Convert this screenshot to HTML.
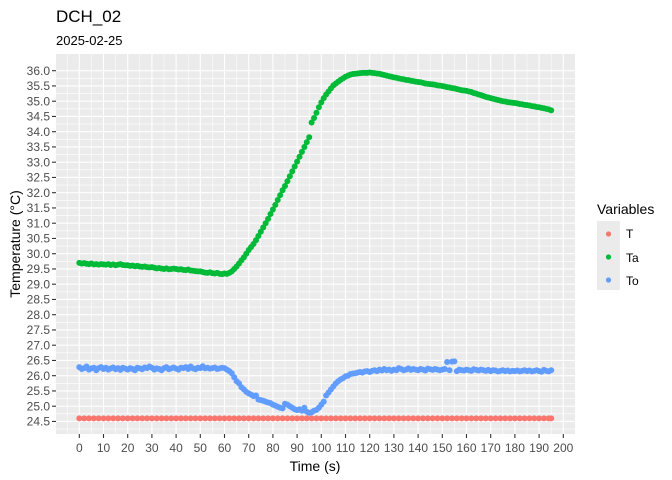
<!DOCTYPE html>
<html><head><meta charset="utf-8"><style>
body{margin:0;background:#fff;}
svg{display:block;font-family:"Liberation Sans",Arial,sans-serif;}
</style></head><body>
<svg id="chart" width="672" height="480">
<text x="56" y="22" font-size="17" fill="#000">DCH_02</text>
<text x="56" y="45" font-size="13" fill="#000">2025-02-25</text>
<rect x="56" y="54" width="519" height="380" fill="#ebebeb"/>
<g id="grid"></g><g id="axes"></g><g id="marks"></g>
<text x="315" y="471" font-size="14" text-anchor="middle" fill="#000">Time (s)</text>
<text transform="translate(20,244) rotate(-90)" font-size="14" text-anchor="middle" fill="#000">Temperature (°C)</text>
<g>
<text x="597" y="214" font-size="14" fill="#000">Variables</text>
<rect x="597" y="221" width="23" height="69" fill="#ebebeb"/>
<circle cx="608.5" cy="234" r="2.6" fill="#F8766D"/>
<circle cx="608.5" cy="257" r="2.6" fill="#00BA38"/>
<circle cx="608.5" cy="280" r="2.6" fill="#619CFF"/>
<text x="626" y="238" font-size="12" fill="#000">T</text>
<text x="626" y="262" font-size="12" fill="#000">Ta</text>
<text x="626" y="285" font-size="12" fill="#000">To</text>
</g>
</svg>
<script>
const time = [0,1,2,3,4,5,6,7,8,9,10,11,12,13,14,15,16,17,18,19,20,21,22,23,24,25,26,27,28,29,30,31,32,33,34,35,36,37,38,39,40,41,42,43,44,45,46,47,48,49,50,51,52,53,54,55,56,57,58,59,60,61,62,63,64,65,66,67,68,69,70,71,72,73,74,75,76,77,78,79,80,81,82,83,84,85,86,87,88,89,90,91,92,93,94,95,96,97,98,99,100,101,102,103,104,105,106,107,108,109,110,111,112,113,114,115,116,117,118,119,120,121,122,123,124,125,126,127,128,129,130,131,132,133,134,135,136,137,138,139,140,141,142,143,144,145,146,147,148,149,150,151,152,153,154,155,156,157,158,159,160,161,162,163,164,165,166,167,168,169,170,171,172,173,174,175,176,177,178,179,180,181,182,183,184,185,186,187,188,189,190,191,192,193,194,195];
const taValues = [29.70,29.68,29.69,29.67,29.66,29.68,29.65,29.66,29.64,29.66,
29.65,29.64,29.66,29.63,29.65,29.62,29.64,29.66,29.63,29.62,
29.62,29.60,29.61,29.59,29.60,29.58,29.57,29.58,29.56,29.55,
29.56,29.54,29.52,29.53,29.51,29.50,29.52,29.49,29.50,29.51,
29.50,29.48,29.49,29.47,29.46,29.48,29.45,29.44,29.43,29.42,
29.42,29.40,29.38,29.37,29.39,29.36,29.35,29.37,29.34,29.33,
29.35,29.34,29.37,29.42,29.50,29.58,29.68,29.78,29.88,30.00,
30.12,30.22,30.32,30.44,30.58,30.72,30.86,31.00,31.14,31.30,
31.45,31.60,31.76,31.92,32.08,32.22,32.38,32.54,32.70,32.86,
33.02,33.18,33.34,33.50,33.66,33.82,34.30,34.45,34.62,34.80,
34.96,35.10,35.22,35.32,35.42,35.52,35.58,35.64,35.70,35.75,
35.80,35.84,35.87,35.89,35.90,35.91,35.92,35.93,35.93,35.93,
35.94,35.93,35.92,35.91,35.90,35.88,35.86,35.84,35.82,35.80,
35.78,35.77,35.75,35.73,35.72,35.70,35.69,35.67,35.66,35.64,
35.63,35.62,35.60,35.58,35.57,35.56,35.55,35.54,35.52,35.51,
35.50,35.48,35.46,35.45,35.43,35.42,35.40,35.38,35.36,35.35,
35.34,35.32,35.30,35.27,35.25,35.22,35.20,35.17,35.14,35.12,
35.10,35.08,35.06,35.04,35.02,35.00,34.99,34.97,34.96,34.95,
34.94,34.93,34.91,34.90,34.88,34.87,34.86,34.84,34.83,34.81,
34.80,34.78,34.77,34.75,34.73,34.70];
const toValues = [26.28,26.22,26.25,26.30,26.20,26.24,26.26,26.18,26.25,26.28,
26.22,26.26,26.20,26.24,26.27,26.21,26.25,26.19,26.26,26.23,
26.20,26.25,26.22,26.18,26.26,26.24,26.21,26.27,26.25,26.30,
26.26,26.20,26.24,26.22,26.18,26.25,26.28,26.21,26.24,26.27,
26.23,26.20,26.26,26.25,26.28,26.22,26.30,26.24,26.21,26.26,
26.25,26.31,26.24,26.26,26.23,26.25,26.27,26.22,26.24,26.26,
26.25,26.20,26.15,26.08,25.95,25.82,25.75,25.62,25.55,25.47,
25.42,25.38,25.33,25.35,25.22,25.20,25.18,25.15,25.12,25.10,
25.05,25.02,24.98,24.95,24.93,25.08,25.05,25.00,24.95,24.90,
24.87,24.90,24.85,24.95,24.82,24.78,24.80,24.85,24.88,24.95,
25.05,25.15,25.35,25.45,25.55,25.65,25.75,25.82,25.88,25.92,
25.98,26.00,26.05,26.07,26.08,26.10,26.12,26.10,26.14,26.15,
26.12,26.16,26.18,26.15,26.20,26.17,26.22,26.18,26.20,26.16,
26.20,26.18,26.25,26.22,26.18,26.20,26.24,26.19,26.22,26.20,
26.18,26.22,26.20,26.17,26.23,26.21,26.19,26.22,26.20,26.18,
26.20,26.22,26.45,26.18,26.46,26.47,26.15,26.20,26.18,26.17,
26.20,26.18,26.16,26.21,26.19,26.17,26.20,26.18,26.16,26.19,
26.15,26.18,26.17,26.14,26.16,26.18,26.15,26.17,26.14,26.16,
26.15,26.17,26.14,26.16,26.18,26.15,26.17,26.14,26.16,26.18,
26.15,26.13,26.19,26.16,26.14,26.18];
const tTime = [0,2,4,6,8,10,12,14,16,18,20,22,24,26,28,30,32,34,36,38,40,42,44,46,48,50,52,54,56,58,60,62,64,66,68,70,72,74,76,78,80,82,84,86,88,90,92,94,96,98,100,102,104,106,108,110,112,114,116,118,120,122,124,126,128,130,132,134,136,138,140,142,144,146,148,150,152,154,156,158,160,162,164,166,168,170,172,174,176,178,180,182,184,186,188,190,192,194,195];
const tValues = [24.6,24.6,24.6,24.6,24.6,24.6,24.6,24.6,24.6,24.6,24.6,24.6,24.6,24.6,24.6,24.6,24.6,24.6,24.6,24.6,24.6,24.6,24.6,24.6,24.6,24.6,24.6,24.6,24.6,24.6,24.6,24.6,24.6,24.6,24.6,24.6,24.6,24.6,24.6,24.6,24.6,24.6,24.6,24.6,24.6,24.6,24.6,24.6,24.6,24.6,24.6,24.6,24.6,24.6,24.6,24.6,24.6,24.6,24.6,24.6,24.6,24.6,24.6,24.6,24.6,24.6,24.6,24.6,24.6,24.6,24.6,24.6,24.6,24.6,24.6,24.6,24.6,24.6,24.6,24.6,24.6,24.6,24.6,24.6,24.6,24.6,24.6,24.6,24.6,24.6,24.6,24.6,24.6,24.6,24.6,24.6,24.6,24.6,24.6];
const xTicks = [0,10,20,30,40,50,60,70,80,90,100,110,120,130,140,150,160,170,180,190,200];
const yTicks = [24.5,25.0,25.5,26.0,26.5,27.0,27.5,28.0,28.5,29.0,29.5,30.0,30.5,31.0,31.5,32.0,32.5,33.0,33.5,34.0,34.5,35.0,35.5,36.0];

const NS = "http://www.w3.org/2000/svg";
const xs = t => 79.3 + t * 2.42;
const ys = v => 70.7 + (36 - v) * 30.5;
function mk(tag, attrs, parent, text){
  const e = document.createElementNS(NS, tag);
  for (const k in attrs) e.setAttribute(k, attrs[k]);
  if (text !== undefined) e.textContent = text;
  parent.appendChild(e); return e;
}
const grid = document.getElementById('grid'), axes = document.getElementById('axes'), marks = document.getElementById('marks');
for (let i = 0; i < xTicks.length - 1; i++) {
  const xm = xs((xTicks[i] + xTicks[i+1]) / 2);
  const l = mk('line', {x1:xm, x2:xm, y1:54, y2:434, stroke:'#fff', 'stroke-width':0.55}, grid);
  
  
}
for (let i = 0; i < yTicks.length - 1; i++) {
  const ym = ys((yTicks[i] + yTicks[i+1]) / 2);
  const l = mk('line', {x1:56, x2:575, y1:ym, y2:ym, stroke:'#fff', 'stroke-width':0.55}, grid);
  
  
}
{
  const lo = ys(yTicks[0] - 0.25);
  const l = mk('line', {x1:56, x2:575, y1:lo, y2:lo, stroke:'#fff', 'stroke-width':0.55}, grid);
  
  
  const xl = xs(xTicks[0] - 5);
  const l2 = mk('line', {x1:xl, x2:xl, y1:54, y2:434, stroke:'#fff', 'stroke-width':0.55}, grid);
  
  
}
xTicks.forEach(t => {
  const x = xs(t);
  const g = mk('line', {x1:x, x2:x, y1:54, y2:434, stroke:'#fff', 'stroke-width':1.1}, grid);
  
  
  const tk = mk('line', {x1:x, x2:x, y1:434, y2:438, stroke:'#333', 'stroke-width':1.1}, axes);
  
  
  const lb = mk('text', {x:x, y:452, 'font-size':12, 'text-anchor':'middle', fill:'#4d4d4d'}, axes, String(t));
  
  
});
yTicks.forEach(v => {
  const y = ys(v);
  const g = mk('line', {x1:56, x2:575, y1:y, y2:y, stroke:'#fff', 'stroke-width':1.1}, grid);
  
  
  const tk = mk('line', {x1:52, x2:56, y1:y, y2:y, stroke:'#333', 'stroke-width':1.1}, axes);
  
  
  const lb = mk('text', {x:50, y:y + 4.2, 'font-size':12, 'text-anchor':'end', fill:'#4d4d4d'}, axes, v.toFixed(1));
  
  
});
function series(tArr, vArr, color, name){
  const g = mk('g', {fill:color}, marks);
  
  
  tArr.forEach((t, i) => {
    const v = vArr[i];
    if (v === null || v === undefined) return;
    const c = mk('circle', {cx:xs(t), cy:ys(v), r:3}, g);
    
    
  });
}
series(tTime, tValues, '#F8766D', 't');
series(time, taValues, '#00BA38', 'ta');
series(time, toValues, '#619CFF', 'to');
</script>
</body></html>
